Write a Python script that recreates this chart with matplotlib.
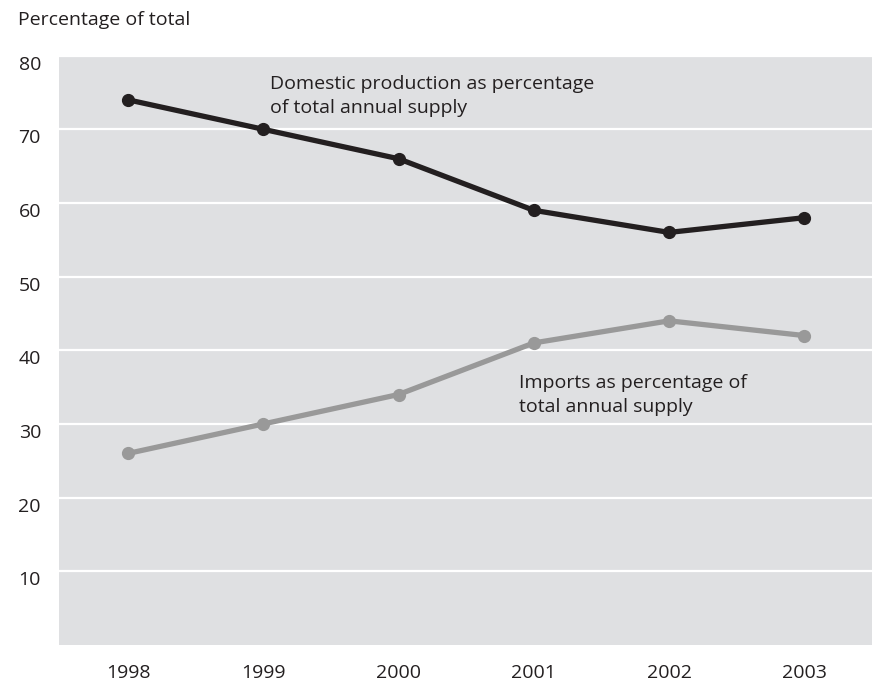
import matplotlib
matplotlib.use("Agg")
import matplotlib.pyplot as plt
from matplotlib.transforms import ScaledTranslation

# data
years = [1998, 1999, 2000, 2001, 2002, 2003]
domestic = [74, 70, 66, 59, 56, 58]
imports = [26, 30, 34, 41, 44, 42]
y_ticks = [10, 20, 30, 40, 50, 60, 70, 80]

plt.rcParams["font.family"] = ["Open Sans", "DejaVu Sans"]
text_color = "#231f20"
bg = "#dfe0e2"
fs = 14

fig = plt.figure(figsize=(8.75, 6.84), dpi=100)
ax = fig.add_axes([59 / 875, 1 - 645 / 684, (872 - 59) / 875, (645 - 55.6) / 684])
ax.set_facecolor(bg)

ax.plot(years, domestic, color="#231f20", lw=3.8, marker="o", ms=8.5, zorder=3)
ax.plot(years, imports, color="#999999", lw=3.8, marker="o", ms=8.5, zorder=3)

ax.set_xlim(1997.49, 2003.5)
ax.set_ylim(0, 80)
ax.set_xticks(years)
ax.set_xticklabels([str(y) for y in years])
ax.set_yticks(y_ticks)
ax.set_yticklabels([str(v) for v in y_ticks])
ax.tick_params(length=0, labelsize=fs, colors=text_color)
ax.tick_params(axis="y", pad=13)
ax.tick_params(axis="x", pad=14)
for lab in ax.get_yticklabels():
    lab.set_transform(lab.get_transform() + ScaledTranslation(0, -7 / 100, fig.dpi_scale_trans))

ax.grid(axis="y", color="white", lw=1.6)
ax.set_axisbelow(True)
for s in ax.spines.values():
    s.set_visible(False)

# multi-line text with va="baseline" sits on the last line's baseline
ax.text(270 / 875, 1 - 113 / 684, "Domestic production as percentage\nof total annual supply",
        transform=fig.transFigure, fontsize=fs, color=text_color, va="baseline",
        linespacing=1.42)
ax.text(519 / 875, 1 - 411.5 / 684, "Imports as percentage of\ntotal annual supply",
        transform=fig.transFigure, fontsize=fs, color=text_color, va="baseline",
        linespacing=1.42)

fig.text(18 / 875, 1 - 25 / 684, "Percentage of total", fontsize=fs, color=text_color,
         va="baseline")

fig.savefig("out.png", dpi=100, facecolor="white")
